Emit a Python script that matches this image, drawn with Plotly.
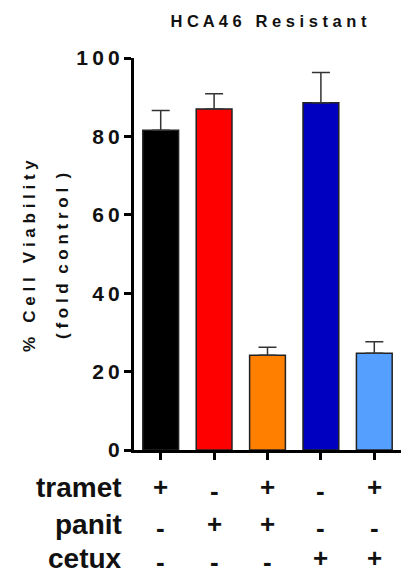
import plotly.graph_objects as go

conditions = ["T", "P", "TP", "C", "TC"]
viability = [81.6, 87.0, 24.2, 88.6, 24.7]
sem = [5.0, 3.9, 2.0, 7.7, 2.9]
colors = ["#000000", "#FF0000", "#FF8000", "#0000C0", "#55A0FF"]
tramet = ["+", "-", "+", "-", "+"]
panit = ["-", "+", "+", "-", "-"]
cetux = ["-", "-", "-", "+", "+"]
row_names = ["tramet", "panit", "cetux"]
ytick_vals = [0, 20, 40, 60, 80, 100]

FONT = "Arial, Liberation Sans, sans-serif"

def spaced(s, gap=" ", wordgap="\u00a0\u00a0\u00a0"):
    words = s.split(" ")
    return wordgap.join(gap.join(list(w)) for w in words)

fig = go.Figure()
fig.add_trace(go.Bar(
    x=list(range(len(conditions))), y=viability, width=0.67,
    marker=dict(color=colors, line=dict(color="#222222", width=1.5)),
    error_y=dict(type="data", array=sem, arrayminus=[0]*len(sem), symmetric=False,
                 color="#333333", thickness=1.5, width=9),
    showlegend=False,
))

fig.update_layout(
    width=413, height=577,
    margin=dict(l=134, r=12, t=58, b=127),
    paper_bgcolor="white", plot_bgcolor="white",
    font=dict(family=FONT, color="black"),
    title=dict(text=spaced("HCA46 Resistant"), x=0.65, xanchor="center",
               y=1 - 21/577, yanchor="middle",
               font=dict(size=16.5, family=FONT, color="#111", weight="bold")),
)
fig.update_xaxes(range=[-0.5, 4.5], showticklabels=False, showline=True, linewidth=3,
                 linecolor="black", ticks="outside", ticklen=7, tickwidth=2.5,
                 tickcolor="black", tickvals=list(range(5)), showgrid=False, zeroline=False)
fig.update_yaxes(range=[0, 100], showline=True, linewidth=3, linecolor="black",
                 ticks="outside", ticklen=7, tickwidth=3, tickcolor="black",
                 tickvals=ytick_vals,
                 ticktext=["\u2009".join(list(str(v))) for v in ytick_vals],
                 tickfont=dict(size=21, family=FONT, color="#111", weight="bold"),
                 showgrid=False, zeroline=False)

# y-axis title, two lines
fig.add_annotation(text=spaced("% Cell Viability"), textangle=-90,
                   xref="paper", yref="paper", x=-(134-30)/267, y=0.495,
                   xanchor="center", yanchor="middle", showarrow=False,
                   font=dict(size=17, family=FONT, color="#111", weight="bold"))
fig.add_annotation(text=spaced("(fold control )", wordgap="\u00a0\u00a0"), textangle=-90,
                   xref="paper", yref="paper", x=-(134-63)/267, y=0.495,
                   xanchor="center", yanchor="middle", showarrow=False,
                   font=dict(size=17, family=FONT, color="#111", weight="bold"))

rows = [tramet, panit, cetux]
row_y = [487, 524, 558]
plot_top, plot_h = 58, 392
for name, signs, py in zip(row_names, rows, row_y):
    yp = 1 - (py - plot_top) / plot_h
    fig.add_annotation(text=name, xref="paper", yref="paper",
                       x=-(134-124)/267, y=yp, xanchor="right", yanchor="middle",
                       showarrow=False, font=dict(size=28, family=FONT, color="#111", weight="bold"))
    for i, s in enumerate(signs):
        fig.add_annotation(text=s, xref="x", yref="paper",
                           x=i, y=yp + (0 if s == "+" else -0.01), xanchor="center", yanchor="middle",
                           showarrow=False, font=dict(size=26, family=FONT, color="#111", weight="bold"))

fig.write_html("out.html")
